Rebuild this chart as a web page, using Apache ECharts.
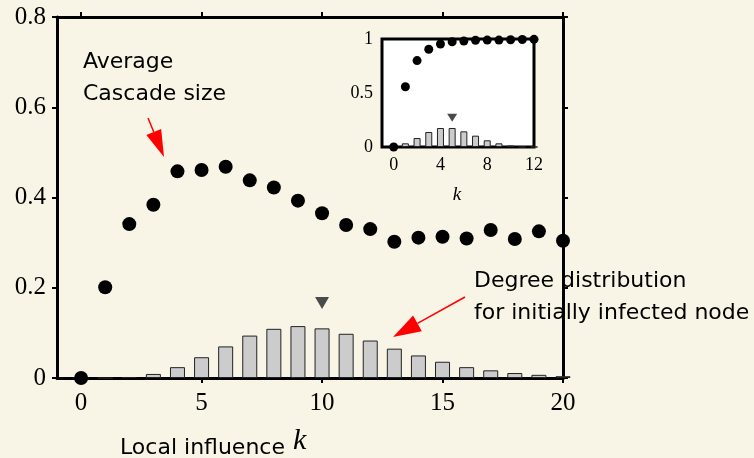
<!DOCTYPE html>
<html><head><meta charset="utf-8">
<script src="https://cdn.jsdelivr.net/npm/echarts@6/dist/echarts.min.js"></script>
<style>html,body{margin:0;padding:0;background:#f9f5e6;}#c{width:754px;height:458px;}</style>
</head><body><div id="c"></div><script>
// ---- data ----
const kMain = [0,1,2,3,4,5,6,7,8,9,10,11,12,13,14,15,16,17,18,19,20];
const cascadeMain = [0, 0.201, 0.341, 0.384, 0.458, 0.461, 0.468, 0.438, 0.422, 0.393, 0.365, 0.339, 0.330, 0.302, 0.311, 0.313, 0.309, 0.328, 0.308, 0.325, 0.304];
const degreeMain = [0, 0, 0.002, 0.009, 0.024, 0.046, 0.070, 0.094, 0.109, 0.115, 0.110, 0.098, 0.083, 0.065, 0.050, 0.036, 0.024, 0.017, 0.011, 0.007, 0.004];
const meanMarkerMain = [10, 0.166];
const xTicksMain = [0, 5, 10, 15, 20];

const kInset = [0,1,2,3,4,5,6,7,8,9,10,11,12];
const cascadeInset = [0, 0.558, 0.80, 0.905, 0.954, 0.975, 0.981, 0.988, 0.99, 0.99, 0.993, 0.995, 0.997];
const degreeInset = [0, 0.034, 0.083, 0.139, 0.176, 0.176, 0.145, 0.105, 0.062, 0.034, 0.015, 0, 0];
const meanMarkerInset = [5, 0.27];
const xTicksInset = [0, 4, 8, 12];

// ---- chart ----
const chart = echarts.init(document.getElementById('c'), null, {renderer: 'canvas'});
const SERIF = '"Liberation Serif", "Times New Roman", serif';
const SANS = '"DejaVu Sans", Arial, sans-serif';
const pairs = (xs, ys) => xs.map((x, i) => [x, ys[i]]);

function axisLine(w) { return {show: true, onZero: false, lineStyle: {color: '#000', width: w}}; }
function ticks(vals) { return {show: true, inside: false, length: 5, customValues: vals, lineStyle: {color: '#000', width: 2}}; }

function arrow(x1, y1, x2, y2, len, hw) {
  const dx = x2 - x1, dy = y2 - y1, L = Math.hypot(dx, dy);
  const ux = dx / L, uy = dy / L;
  const bx = x2 - ux * len, by = y2 - uy * len;
  return [
    {type: 'line', z: -1, shape: {x1: x1, y1: y1, x2: bx, y2: by}, style: {stroke: '#ff0000', lineWidth: 1.5}},
    {type: 'polygon', z: -1, shape: {points: [[x2, y2], [bx - uy * hw, by + ux * hw], [bx + uy * hw, by - ux * hw]]}, style: {fill: '#ff0000'}}
  ];
}

const option = {
  backgroundColor: '#f9f5e6',
  animation: false,
  grid: [
    {left: 57, right: 191, top: 17, bottom: 80, containLabel: false, outerBoundsMode: 'none'},
    {left: 382, right: 220, top: 39, bottom: 311, containLabel: false, outerBoundsMode: 'none',
     show: true, backgroundColor: '#ffffff', borderColor: '#000', borderWidth: 3}
  ],
  xAxis: [
    {gridIndex: 0, type: 'value', min: -1, max: 20, position: 'bottom', axisLine: axisLine(3), axisTick: ticks(xTicksMain),
     axisLabel: {customValues: xTicksMain, fontFamily: SERIF, fontSize: 25, color: '#000', margin: 13}, splitLine: {show: false}},
    {gridIndex: 0, type: 'value', min: -1, max: 20, position: 'top', axisLine: axisLine(3), axisTick: ticks(xTicksMain),
     axisLabel: {show: false}, splitLine: {show: false}},
    {gridIndex: 1, type: 'value', min: -1, max: 12, position: 'bottom', axisLine: {show: false}, axisTick: {show: false},
     axisLabel: {customValues: xTicksInset, fontFamily: SERIF, fontSize: 18, color: '#000', margin: 9}, splitLine: {show: false}}
  ],
  yAxis: [
    {gridIndex: 0, type: 'value', min: 0, max: 0.8, interval: 0.2, position: 'left', axisLine: axisLine(3),
     axisTick: {show: true, length: 5, lineStyle: {color: '#000', width: 2}},
     axisLabel: {fontFamily: SERIF, fontSize: 25, color: '#000', margin: 11}, splitLine: {show: false}},
    {gridIndex: 0, type: 'value', min: 0, max: 0.8, interval: 0.2, position: 'right', axisLine: axisLine(3),
     axisTick: {show: true, length: 5, lineStyle: {color: '#000', width: 2}},
     axisLabel: {show: false}, splitLine: {show: false}},
    {gridIndex: 1, type: 'value', min: 0, max: 1, interval: 0.5, position: 'left', axisLine: {show: false}, axisTick: {show: false},
     axisLabel: {fontFamily: SERIF, fontSize: 18, color: '#000', margin: 9}, splitLine: {show: false}}
  ],
  series: [
    {type: 'bar', xAxisIndex: 0, yAxisIndex: 0, barWidth: 15, data: pairs(kMain, degreeMain),
     itemStyle: {color: '#cccccc', borderColor: '#222', borderWidth: 1, opacity: 1}},
    {type: 'scatter', xAxisIndex: 0, yAxisIndex: 0, clip: false, symbol: 'circle', symbolSize: 14, data: pairs(kMain, cascadeMain),
     itemStyle: {color: '#000', opacity: 1}, z: 5},
    {type: 'scatter', xAxisIndex: 0, yAxisIndex: 0, clip: false, symbol: 'triangle', symbolRotate: 180, symbolSize: [14, 12],
     data: [meanMarkerMain], itemStyle: {color: '#4a4a4a', opacity: 1}},
    {type: 'bar', xAxisIndex: 2, yAxisIndex: 2, barWidth: 7, data: pairs(kInset, degreeInset),
     itemStyle: {color: '#cccccc', borderColor: '#222', borderWidth: 1, opacity: 1}},
    {type: 'scatter', xAxisIndex: 2, yAxisIndex: 2, clip: false, symbol: 'circle', symbolSize: 9, data: pairs(kInset, cascadeInset),
     itemStyle: {color: '#000', opacity: 1}, z: 5},
    {type: 'scatter', xAxisIndex: 2, yAxisIndex: 2, clip: false, symbol: 'triangle', symbolRotate: 180, symbolSize: [10, 8],
     data: [meanMarkerInset], itemStyle: {color: '#4a4a4a', opacity: 1}}
  ],
  graphic: [
    {type: 'text', z: -1, x: 83, y: 62, style: {text: 'Average', font: '22px ' + SANS, fill: '#000', verticalAlign: 'middle'}},
    {type: 'text', z: -1, x: 83, y: 94, style: {text: 'Cascade size', font: '22px ' + SANS, fill: '#000', verticalAlign: 'middle'}},
    {type: 'text', z: -1, x: 474, y: 281, style: {text: 'Degree distribution', font: '22px ' + SANS, fill: '#000', verticalAlign: 'middle'}},
    {type: 'text', z: -1, x: 474, y: 313, style: {text: 'for initially infected node', font: '22px ' + SANS, fill: '#000', verticalAlign: 'middle'}},
    {type: 'text', z: -1, x: 120, y: 448, style: {text: 'Local influence', font: '22px ' + SANS, fill: '#000', verticalAlign: 'middle'}},
    {type: 'text', z: -1, x: 293, y: 441, style: {text: 'k', font: 'italic 30px ' + SERIF, fill: '#000', verticalAlign: 'middle'}},
    {type: 'text', z: -1, x: 457, y: 195, style: {text: 'k', font: 'italic 19px ' + SERIF, fill: '#000', align: 'center', verticalAlign: 'middle'}}
  ].concat(arrow(148, 118, 164, 157, 27, 8), arrow(465, 297, 393, 337, 28, 9))
};
chart.setOption(option);
</script></body></html>
